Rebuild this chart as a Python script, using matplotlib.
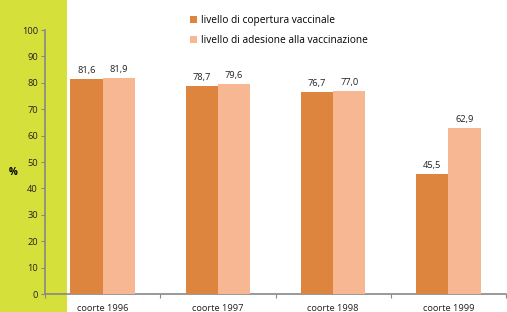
import matplotlib
matplotlib.use("Agg")
import matplotlib.pyplot as plt
from matplotlib.patches import Rectangle
import numpy as np

categories = ["coorte 1996", "coorte 1997", "coorte 1998", "coorte 1999"]
copertura = [81.6, 78.7, 76.7, 45.5]
adesione = [81.9, 79.6, 77.0, 62.9]
series_names = ["livello di copertura vaccinale", "livello di adesione alla vaccinazione"]
yticks = list(range(0, 101, 10))

c1 = "#dd853e"
c2 = "#f8b793"
green = "#d5e03a"
gray = "#888888"

plt.rcParams['font.family'] = ['Open Sans', 'DejaVu Sans']

fig = plt.figure(figsize=(5.07, 3.12), dpi=100)
fig.patches.append(Rectangle((0, 0), 67/507, 1, transform=fig.transFigure,
                             facecolor=green, edgecolor='none', zorder=-5))
ax = fig.add_axes([45/507, 1 - 294/312, 461/507, (294 - 30)/312])
ax.set_zorder(1)
ax.patch.set_alpha(0)

x = np.arange(len(categories))
w = 0.28
b1 = ax.bar(x - w/2, copertura, w, color=c1, label=series_names[0], zorder=3)
b2 = ax.bar(x + w/2, adesione, w, color=c2, label=series_names[1], zorder=3)

def fmt(v):
    return f"{v:.1f}".replace(".", ",")

for bars, vals in ((b1, copertura), (b2, adesione)):
    for r, v in zip(bars, vals):
        ax.text(r.get_x() + r.get_width()/2, v + 1.5, fmt(v), ha='center', va='bottom',
                fontsize=6.7, color='#222222')

ax.set_xlim(-0.5, len(categories) - 0.5)
ax.set_ylim(0, 100)
ax.set_yticks(yticks)
ax.set_yticklabels([str(t) for t in yticks], fontsize=6.7, color='#222222')
ax.set_xticks(np.arange(len(categories) + 1) - 0.5, minor=False)
ax.set_xticklabels([])
ax.set_xticks(x, minor=True)
ax.set_xticklabels(categories, minor=True, fontsize=6.7, color='#222222')
ax.tick_params(axis='x', which='major', length=3, color=gray, direction='out')
ax.tick_params(axis='x', which='minor', length=0, pad=7)
ax.tick_params(axis='y', length=3, color=gray, direction='out', pad=2)

for s in ['top', 'right']:
    ax.spines[s].set_visible(False)
for s in ['left', 'bottom']:
    ax.spines[s].set_color(gray)
    ax.spines[s].set_linewidth(1.2)

ax.text(-0.07, 0.46, "%", transform=ax.transAxes, fontsize=7, fontweight='bold',
        ha='center', va='center')

ax.legend(loc='upper left', bbox_to_anchor=(0.295, 1.09), frameon=False, fontsize=7.3,
          handlelength=0.7, handleheight=0.7, handletextpad=0.35, labelspacing=0.85)

fig.savefig("out.png", dpi=100)
